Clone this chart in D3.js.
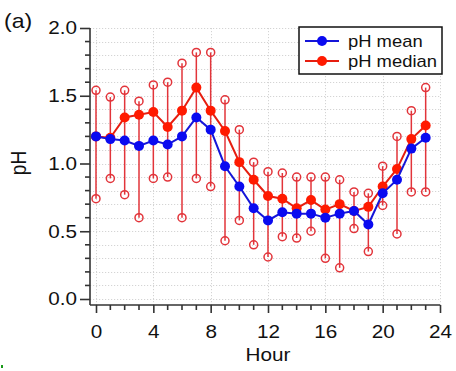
<!DOCTYPE html>
<html>
<head>
<meta charset="utf-8">
<script src="https://cdn.jsdelivr.net/npm/d3@7"></script>
<style>
  html, body { margin: 0; padding: 0; background: #fff; }
  svg { display: block; font-family: "Liberation Sans", Arial, sans-serif; }
</style>
</head>
<body>
<svg id="chart" width="456" height="371"></svg>
<script>
// Diurnal pH profile: hourly mean, median and range whiskers
const hours = d3.range(0, 24);
const phMean   = [1.20, 1.18, 1.17, 1.13, 1.17, 1.14, 1.20, 1.34, 1.25, 0.98, 0.83, 0.67,
                  0.58, 0.64, 0.63, 0.63, 0.60, 0.63, 0.65, 0.55, 0.78, 0.88, 1.11, 1.19];
const phMedian = [1.20, 1.19, 1.34, 1.36, 1.38, 1.27, 1.39, 1.56, 1.39, 1.24, 1.01, 0.88,
                  0.76, 0.74, 0.67, 0.73, 0.66, 0.70, 0.65, 0.68, 0.83, 0.96, 1.18, 1.28];
const phUpper  = [1.54, 1.49, 1.54, 1.46, 1.58, 1.60, 1.74, 1.82, 1.82, 1.47, 1.25, 1.01,
                  0.94, 0.93, 0.90, 0.90, 0.90, 0.88, 0.79, 0.78, 0.98, 1.20, 1.39, 1.56];
const phLower  = [0.74, 0.89, 0.77, 0.60, 0.89, 0.90, 0.60, 0.89, 0.83, 0.43, 0.58, 0.40,
                  0.31, 0.46, 0.45, 0.50, 0.30, 0.23, 0.52, 0.35, 0.69, 0.48, 0.79, 0.79];
const xMajorTicks = [0, 4, 8, 12, 16, 20, 24];
const yMajorTicks = [0.0, 0.5, 1.0, 1.5, 2.0];
const seriesNames = ["pH mean", "pH median"];

const BLUE = "#0a0af0", BLUE_LINE = "#1515d8";
const RED = "#ff1a00", RED_LINE = "#e61e10", WHISKER = "#e2343a";
const AXIS = "#333";
const FONT = '"Liberation Sans", Arial, sans-serif';
const WIDE = 1.15; // horizontal widening of the lettering

const svg = d3.select("#chart");
const x = d3.scaleLinear().domain([0, 24]).range([96, 440]);
const y = d3.scaleLinear().domain([0, 2]).range([299, 28]);
const axisX = 90, axisY = 305;

// widened text placed at (tx, ty)
function label(parent, tx, ty, str, size, anchor) {
  return parent.append("text")
    .attr("transform", `translate(${tx},${ty}) scale(${WIDE},1)`)
    .attr("text-anchor", anchor || "start")
    .style("font-size", size + "px").style("font-family", FONT)
    .attr("fill", "#111").text(str);
}

// grid
const grid = svg.append("g").attr("stroke", "#d4d4d4").attr("stroke-width", 1)
  .attr("stroke-dasharray", "1.2,1.8");
grid.selectAll("line.h").data(d3.range(0, 21).map(i => i / 10)).join("line")
  .attr("x1", axisX).attr("x2", x(24))
  .attr("y1", d => Math.round(y(d)) + 0.5).attr("y2", d => Math.round(y(d)) + 0.5);
grid.selectAll("line.v").data(xMajorTicks).join("line")
  .attr("x1", d => Math.round(x(d)) + 0.5).attr("x2", d => Math.round(x(d)) + 0.5)
  .attr("y1", y(2)).attr("y2", axisY);

// y axis
const yAxis = svg.append("g").attr("transform", `translate(${axisX},0)`)
  .call(d3.axisLeft(y).tickValues(yMajorTicks).tickFormat(d3.format(".1f"))
    .tickSize(10).tickPadding(3));
yAxis.append("g").selectAll("line").data(d3.range(0, 21).map(i => i / 10)
  .filter(v => Math.abs(v * 2 - Math.round(v * 2)) > 1e-6)).join("line")
  .attr("x1", -5).attr("x2", 0).attr("y1", d => y(d)).attr("y2", d => y(d));
yAxis.select(".domain").attr("d", `M0,${y(2)}V${axisY}`);

// x axis
const xAxis = svg.append("g").attr("transform", `translate(0,${axisY})`)
  .call(d3.axisBottom(x).tickValues(xMajorTicks).tickFormat(d3.format("d"))
    .tickSize(8).tickPadding(12));
xAxis.append("g").selectAll("line").data(d3.range(0, 25).filter(h => h % 4 !== 0)).join("line")
  .attr("x1", d => x(d)).attr("x2", d => x(d)).attr("y1", 0).attr("y2", 5);
xAxis.select(".domain").attr("d", `M${axisX},0H${x(24)}`);

[yAxis, xAxis].forEach(a => {
  a.selectAll("path, line").attr("stroke", AXIS).attr("stroke-width", 1.6);
  a.selectAll(".tick text").attr("fill", "#111").style("font-size", "18px").style("font-family", FONT)
    .attr("transform", function () {
      const x0 = +this.getAttribute("x") || 0;
      return `translate(${x0},0) scale(${WIDE},1)`;
    })
    .attr("x", 0);
});

// axis titles and panel tag
label(svg, x(12), 361, "Hour", 18, "middle");
svg.append("text").attr("transform", "translate(26,163) rotate(-90) scale(1,1.12)")
  .attr("text-anchor", "middle").style("font-size", "19px").style("font-family", FONT)
  .attr("fill", "#111").text("pH");
label(svg, 4, 28, "(a)", 20);

// whiskers
const wh = svg.append("g");
wh.selectAll("line").data(hours).join("line")
  .attr("x1", d => x(d)).attr("x2", d => x(d))
  .attr("y1", d => y(phUpper[d])).attr("y2", d => y(phLower[d]))
  .attr("stroke", WHISKER).attr("stroke-width", 1.5);
wh.selectAll("circle").data(hours.flatMap(h => [phUpper[h], phLower[h]].map(v => ({ h, v }))))
  .join("circle")
  .attr("cx", d => x(d.h)).attr("cy", d => y(d.v)).attr("r", 4)
  .attr("fill", "none").attr("stroke", WHISKER).attr("stroke-width", 1.5);

// mean and median lines
const line = vals => d3.line().x((d, i) => x(hours[i])).y(d => y(d))(vals);
function series(vals, lineColor, dotColor) {
  const g = svg.append("g");
  g.append("path").attr("d", line(vals)).attr("fill", "none")
    .attr("stroke", lineColor).attr("stroke-width", 2);
  g.selectAll("circle").data(vals).join("circle")
    .attr("cx", (d, i) => x(hours[i])).attr("cy", d => y(d)).attr("r", 5)
    .attr("fill", dotColor);
}
series(phMedian, RED_LINE, RED);
series(phMean, BLUE_LINE, BLUE);

// legend
const lg = svg.append("g");
lg.append("rect").attr("x", 299).attr("y", 27).attr("width", 143).attr("height", 47)
  .attr("fill", "#fff").attr("stroke", "#111").attr("stroke-width", 1.5);
const legendItems = [
  { name: seriesNames[0], line: BLUE_LINE, dot: BLUE, cy: 41 },
  { name: seriesNames[1], line: RED_LINE, dot: RED, cy: 61 }
];
legendItems.forEach(it => {
  lg.append("line").attr("x1", 305).attr("x2", 339).attr("y1", it.cy).attr("y2", it.cy)
    .attr("stroke", it.line).attr("stroke-width", 2);
  lg.append("circle").attr("cx", 322).attr("cy", it.cy).attr("r", 5).attr("fill", it.dot);
  label(lg, 348, it.cy + 6, it.name, 16);
});

// small green corner mark
svg.append("rect").attr("x", 1).attr("y", 365).attr("width", 2).attr("height", 3).attr("fill", "#1a9a1a");
</script>
</body>
</html>
